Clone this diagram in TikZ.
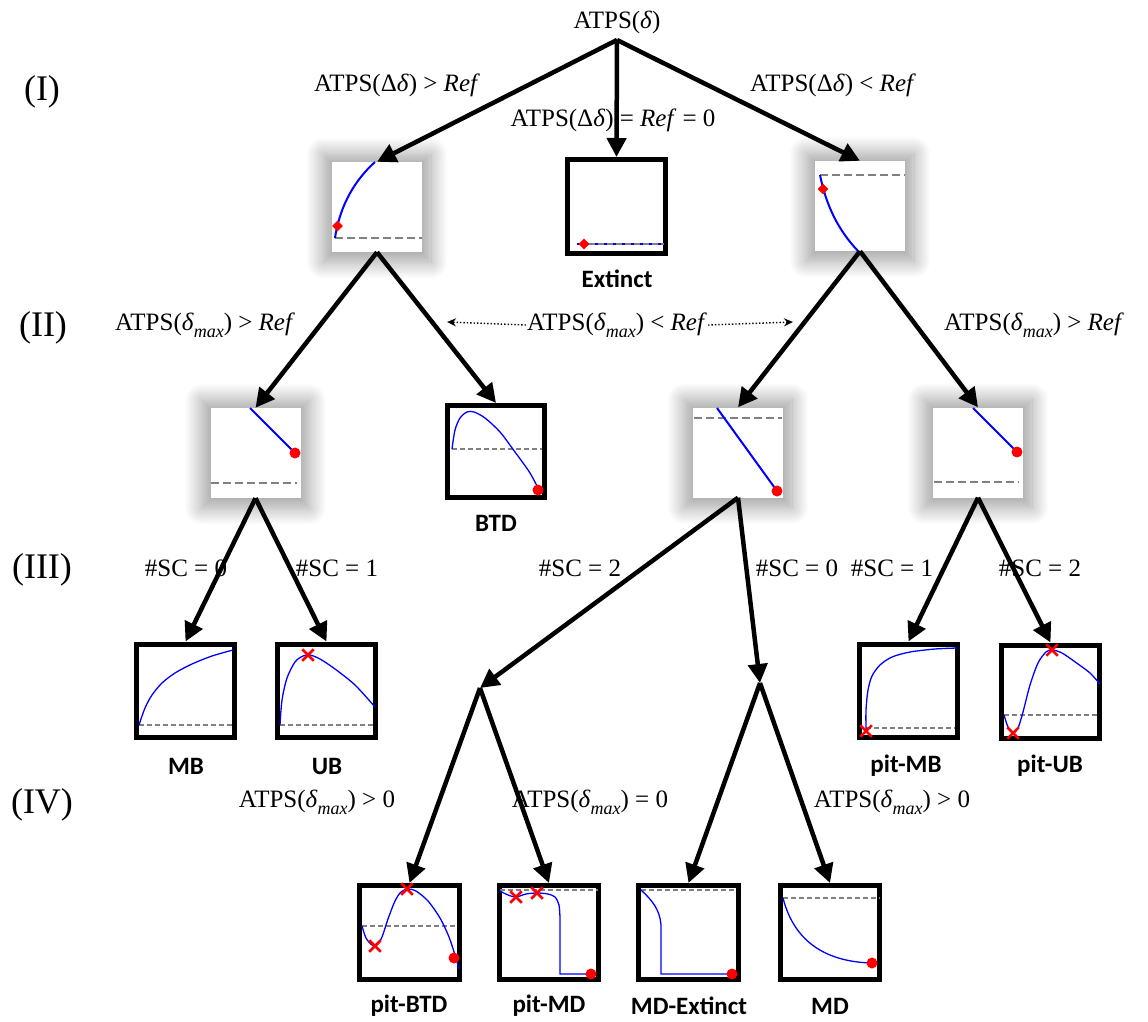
\documentclass[tikz,border=0pt]{standalone}
\usepackage{fontspec}
\newfontfamily\carl{Carlito}
\newfontfamily\cam{Liberation Serif}
\usetikzlibrary{arrows.meta,shadows.blur,shapes.geometric,shapes.misc}
\newcommand\dl{\textit{δ}}
\newcommand\dmax{\textit{δ}\raisebox{-0.28em}{\fontsize{18}{18}\selectfont\textit{max}}}
\newcommand\rf{\textit{Ref}}
\begin{document}
\begin{tikzpicture}[x=1pt,y=-1pt,
  arr/.style={line width=4.5pt,-{Triangle[length=19pt,width=19pt]}},
  darr/.style={line width=1.4pt,dotted,-{Stealth[length=9pt,width=8pt]}},
  sbox/.style={minimum width=90pt,minimum height=90pt,fill=white,inner sep=0pt,
    blur shadow={shadow xshift=0pt,shadow yshift=-1pt,shadow blur radius=14pt,shadow scale=1.2,shadow opacity=38,shadow blur steps=24}},
  lbox/.style={draw,line width=5pt,minimum width=98pt,minimum height=93pt,inner sep=0pt,fill=white},
  mlab/.style={font=\cam\fontsize{25}{28}\selectfont,inner sep=1pt},
  rlab/.style={font=\cam\fontsize{36}{40}\selectfont},
  blab/.style={font=\carl\bfseries\fontsize{25}{28}\selectfont},
  ref/.style={gray,line width=2.5pt,dash pattern=on 8pt off 4pt},
  reft/.style={gray,line width=1.5pt,dash pattern=on 5pt off 3pt},
  cur/.style={blue,line width=2pt},
  curt/.style={blue,line width=1.3pt},
  dia/.style={diamond,fill=red,minimum size=11pt,inner sep=0pt},
  xx/.style={cross out,draw=red,line width=2.5pt,minimum size=9pt,inner sep=0pt},
]
\useasboundingbox (0,0) rectangle (1148,1022);

% ---------- nodes ----------
\node[mlab] (root) at (617,22) {ATPS(\dl)};
\node[sbox] (b1) at (377,207) {};
\node[lbox,minimum height=94pt] (ext) at (616.5,206.5) {};
\node[sbox] (b3) at (860,206) {};

\node[sbox] (b11) at (255.5,453) {};
\node[lbox,minimum width=97pt,minimum height=92pt] (btd) at (496,451.5) {};
\node[sbox] (b31) at (738,452.5) {};
\node[sbox] (b32) at (978,452.5) {};

\node[lbox] (mb) at (185.5,690.5) {};
\node[lbox] (ub) at (326.5,690.5) {};
\node[lbox] (pmb) at (908.5,690.5) {};
\node[lbox] (pub) at (1050.5,691.5) {};

\node[lbox,minimum width=100pt,minimum height=94pt] (pbtd) at (409.5,932.5) {};
\node[lbox,minimum width=99pt,minimum height=94pt] (pmd) at (549,932.5) {};
\node[lbox,minimum width=100pt,minimum height=94pt] (mdx) at (688.5,932.5) {};
\node[lbox,minimum width=99pt,minimum height=94pt] (md) at (830,932.5) {};

\coordinate (br1) at (480,688);
\coordinate (br2) at (760,683);

% ---------- box names ----------
\node[blab] (lext) at (617,279) {Extinct};
\node[blab] (lbtd) at (496,523) {BTD};
\node[blab] (lmb) at (186,766) {MB};
\node[blab] (lub) at (327,766) {UB};
\node[blab] (lpmb) at (906,766) {pit-MB};
\node[blab] (lpub) at (1050,766) {pit-UB};
\node[blab] (lpbtd) at (409,1006) {pit-BTD};
\node[blab] (lpmd) at (549,1006) {pit-MD};
\node[blab] (lmdx) at (689,1006) {MD-Extinct};
\node[blab] (lmd) at (830,1006) {MD};

% ---------- level labels ----------
\node[rlab] (r1) at (42,92) {(I)};
\node[rlab] (r2) at (43,328) {(II)};
\node[rlab] (r3) at (42,570) {(III)};
\node[rlab] (r4) at (42,805) {(IV)};

% ---------- edge labels ----------
\node[mlab] (e1) at (397,85) {ATPS(Δ\dl) > \rf};
\node[mlab] (e2) at (613,120) {ATPS(Δ\dl) = \rf{} = 0};
\node[mlab] (e3) at (833,85) {ATPS(Δ\dl) < \rf};
\node[mlab] (e4) at (205,325) {ATPS(\dmax) > \rf};
\node[mlab] (e5) at (617,325) {ATPS(\dmax) < \rf};
\node[mlab] (e6) at (1034,325) {ATPS(\dmax) > \rf};
\node[mlab] (s1) at (186,568) {\#SC = 0};
\node[mlab] (s2) at (337,568) {\#SC = 1};
\node[mlab] (s3) at (580,568) {\#SC = 2};
\node[mlab] (s4) at (797,568) {\#SC = 0};
\node[mlab] (s5) at (892,568) {\#SC = 1};
\node[mlab] (s6) at (1040,568) {\#SC = 2};
\node[mlab] (f1) at (317,802) {ATPS(\dmax) > 0};
\node[mlab] (f2) at (590,802) {ATPS(\dmax) = 0};
\node[mlab] (f3) at (892,802) {ATPS(\dmax) > 0};

\coordinate (dl) at (447,322);
\coordinate (dr) at (793,322);
\draw[darr] (e5.west) -- (dl);
\draw[darr] (e5.east) -- (dr);

% ---------- connectors ----------
\coordinate (rt) at (617,40);
\draw[arr] (rt) -- (b1.north);
\draw[arr] (rt) -- (ext.north);
\draw[arr] (rt) -- (b3.north);
\draw[arr] (b1.south) -- (b11.north);
\draw[arr] (b1.south) -- (btd.north);
\draw[arr] (b3.south) -- (b31.north);
\draw[arr] (b3.south) -- (b32.north);
\draw[arr] (b11.south) -- (mb.north);
\draw[arr] (b11.south) -- (ub.north);
\draw[arr] (b31.south) -- (br1);
\draw[arr] (b31.south) -- (br2);
\draw[arr] (b32.south) -- (pmb.north);
\draw[arr] (b32.south) -- (pub.north);
\draw[arr] (br1) -- (pbtd.north);
\draw[arr] (br1) -- (pmd.north);
\draw[arr] (br2) -- (mdx.north);
\draw[arr] (br2) -- (md.north);

% ---------- plots ----------
% b1
\draw[ref] (335,238) -- (422,238);
\draw[cur] (335,238) .. controls (340,205) and (355,180) .. (375,162);
\node[dia] at (337.5,226) {};
% extinct
\draw[gray,line width=2pt] (577,244) -- (664,244);
\draw[blue,line width=2pt,dash pattern=on 3pt off 6pt] (577,244) -- (664,244);
\node[dia] at (584,244) {};
% b3
\draw[ref] (820,175) -- (905,175);
\draw[cur] (820,175) .. controls (826,205) and (838,230) .. (858,251);
\node[dia] at (823,189) {};
% b11
\draw[ref] (211,483) -- (297,483);
\draw[cur] (250,408) -- (295,453);
\fill[red] (295,453) circle[radius=5.5pt];
% btd
\draw[reft] (452,449) -- (542,449);
\draw[curt] plot[smooth] coordinates {(452,449) (455,430) (460,418) (467,412) (474,412) (485,418) (500,432) (515,452) (530,473) (541,494)};
\fill[red] (538,490) circle[radius=5.5pt];
% b31
\draw[ref] (694,418) -- (782,418);
\draw[cur] (717,408) -- (777,491);
\fill[red] (777,491) circle[radius=5.5pt];
% b32
\draw[ref] (934,482) -- (1019,482);
\draw[cur] (973,408) -- (1017,452);
\fill[red] (1017,452) circle[radius=5.5pt];
% MB
\draw[reft] (139,725) -- (232,725);
\draw[curt] plot[smooth] coordinates {(139,725) (145,708) (152,695) (162,683) (175,673) (192,664) (212,656) (233,650)};
% UB
\draw[reft] (280,725) -- (374,725);
\draw[curt] plot[smooth] coordinates {(280,725) (282,700) (287,678) (295,662) (303,656) (310,655) (320,659) (335,669) (355,685) (375,707)};
\node[xx] at (308,655) {};
% pit-MB
\draw[reft] (866,728) -- (955,728);
\draw[curt] plot[smooth] coordinates {(866,730) (866,710) (868,690) (872,676) (880,665) (892,657) (910,652) (935,649) (957,648)};
\node[xx] at (866,731) {};
% pit-UB
\draw[reft] (1004,715) -- (1099,715);
\draw[curt] plot[smooth] coordinates {(1004,715) (1008,727) (1013,733) (1018,728) (1023,712) (1030,685) (1038,663) (1046,652) (1052,650) (1062,653) (1078,664) (1090,673) (1100,684)};
\node[xx] at (1013,733) {};
\node[xx] at (1052,650) {};
% pit-BTD
\draw[reft] (362,926) -- (458,926);
\draw[curt] plot[smooth] coordinates {(362,926) (366,938) (372,945) (377,945) (382,937) (388,919) (395,901) (401,892) (408,889) (416,891) (428,901) (440,918) (449,937) (455,955) (459,969)};
\node[xx] at (375,946) {};
\node[xx] at (407,889) {};
\fill[red] (454,958) circle[radius=5.5pt];
% pit-MD
\draw[reft] (500,890) -- (598,890);
\draw[curt] plot[smooth] coordinates {(500,891) (508,895) (516,897) (526,894) (537,893) (548,894) (555,897) (559,905) (560,918)} -- (560,974) -- (592,974);
\node[xx] at (516,897) {};
\node[xx] at (537,893) {};
\fill[red] (591,974) circle[radius=5.5pt];
% MD-Extinct
\draw[reft] (641,890) -- (737,890);
\draw[curt] (641,890) .. controls (652,900) and (660,910) .. (661,925) -- (661,974) -- (733,974);
\fill[red] (732,974) circle[radius=5.5pt];
% MD
\draw[reft] (783,898) -- (880,898);
\draw[curt] (783,898) .. controls (795,945) and (830,962) .. (872,963);
\fill[red] (872,963) circle[radius=5.5pt];
\end{tikzpicture}
\end{document}
